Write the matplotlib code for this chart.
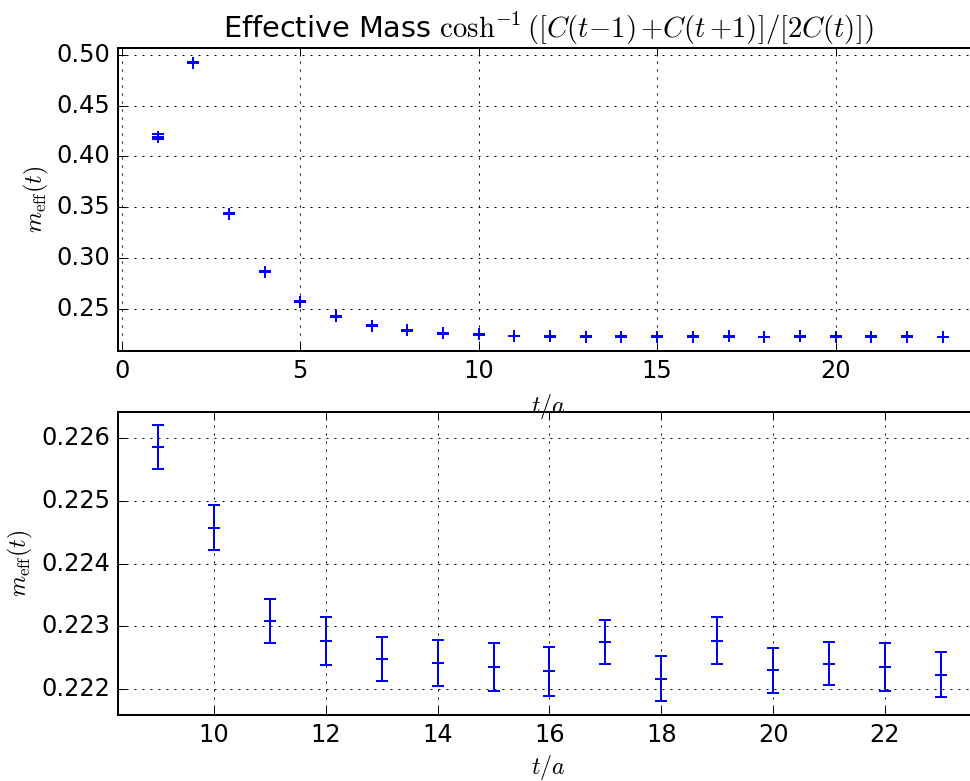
import matplotlib
matplotlib.use("Agg")
import matplotlib.pyplot as plt

plt.style.use('classic')

# Data
t_all = list(range(1, 24))
m_all = [0.4195, 0.4924, 0.3436, 0.2864, 0.2569, 0.2425, 0.2332, 0.2287,
         0.225856, 0.224574, 0.223089, 0.222766, 0.222478, 0.222420, 0.222346,
         0.222282, 0.222745, 0.222165, 0.222770, 0.222298, 0.222404, 0.222351,
         0.222228]
e_all = [0.0023, 0.0006, 0.0005, 0.0004, 0.0004, 0.0004, 0.0004, 0.0004,
         0.000350, 0.000355, 0.000350, 0.000380, 0.000350, 0.000366, 0.000383,
         0.000390, 0.000350, 0.000360, 0.000375, 0.000364, 0.000340, 0.000378,
         0.000360]

t_zoom = t_all[8:]
m_zoom = m_all[8:]
e_zoom = e_all[8:]

W, H, DPI = 970, 781, 144
fig = plt.figure(figsize=(W / DPI, H / DPI), dpi=DPI)

left = 118.3 / W
width = 860.0 / W
ax1 = fig.add_axes([left, 1 - 351.0 / H, width, 302.7 / H])
ax2 = fig.add_axes([left, 1 - 715.0 / H, width, 303.0 / H])
ax1.set_zorder(2)

style = dict(fmt='+', color='b', mec='b', mew=1.0, elinewidth=1.0, capthick=1.0)

ax1.errorbar(t_all, m_all, yerr=e_all, **style)
ax1.set_xlim(-0.1, 24.0)
ax1.set_ylim(0.2083, 0.5066)
ax1.set_xticks([0, 5, 10, 15, 20])
ax1.set_yticks([0.25, 0.30, 0.35, 0.40, 0.45, 0.50])
ax1.grid(True)
ax1.set_xlabel(r'$t/a$')
ax1.set_ylabel(r'$m_{\rm eff}(t)$')
ax1.xaxis.set_label_coords(0.5, -0.136)
ax1.yaxis.set_label_coords(-0.078, 0.5)
ax1.set_title(r'Effective Mass $\cosh^{-1}([C(t{-}1)\,{+}C(t\,{+}1)]/[2C(t)])$')

ax2.errorbar(t_zoom, m_zoom, yerr=e_zoom, **style)
ax2.set_xlim(8.29, 23.67)
ax2.set_ylim(0.221585, 0.22642)
ax2.set_xticks([10, 12, 14, 16, 18, 20, 22])
ax2.set_yticks([0.222, 0.223, 0.224, 0.225, 0.226])
ax2.ticklabel_format(axis='y', useOffset=False)
ax2.grid(True)
ax2.set_xlabel(r'$t/a$')
ax2.set_ylabel(r'$m_{\rm eff}(t)$')
ax2.xaxis.set_label_coords(0.5, -0.127)
ax2.yaxis.set_label_coords(-0.097, 0.5)

fig.savefig('out.png', dpi=DPI)
